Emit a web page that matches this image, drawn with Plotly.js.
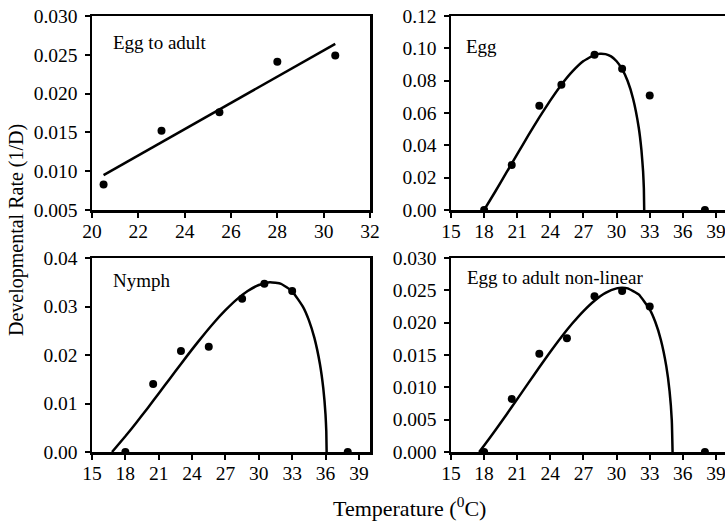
<!DOCTYPE html>
<html>
<head>
<meta charset="utf-8">
<script src="https://cdn.plot.ly/plotly-3.0.1.min.js"></script>
<style>
html, body { margin: 0; padding: 0; overflow: hidden; background: #fff; }
#chart { width: 735px; height: 523px; }
</style>
</head>
<body>
<div id="chart"></div>
<script>
// Panel A: Egg to adult (linear)
const linTemp = [20.5, 23, 25.5, 28, 30.5];
const linRate = [0.0083, 0.0152, 0.0176, 0.0241, 0.0249];
const linFitTemp = [20.5, 30.5];
const linFitRate = [0.0095, 0.0264];

// Panel B: Egg
const eggTemp = [18, 20.5, 23, 25, 28, 30.5, 33, 38];
const eggRate = [0, 0.0278, 0.0645, 0.0774, 0.0961, 0.0874, 0.0708, 0];
const eggFitTemp = [18, 19, 20, 21, 22, 23, 24, 25, 26, 27, 28, 28.5, 29, 29.5, 30, 30.5, 31, 31.5, 32, 32.25, 32.4, 32.47, 32.5];
const eggFitRate = [0, 0.0113, 0.0229, 0.0345, 0.0461, 0.0573, 0.0678, 0.0775, 0.0857, 0.0921, 0.0960, 0.0967, 0.0964, 0.0950, 0.0920, 0.0871, 0.0798, 0.0687, 0.0512, 0.0371, 0.0238, 0.0132, 0];

// Panel C: Nymph
const nymphTemp = [18, 20.5, 23, 25.5, 28.5, 30.5, 33, 38];
const nymphRate = [0, 0.0140, 0.0208, 0.0217, 0.0316, 0.0347, 0.0332, 0];
const nymphFitTemp = [16.8, 18, 19, 20, 21, 22, 23, 24, 25, 26, 27, 28, 29, 30, 31, 32, 33, 34, 34.5, 35, 35.5, 35.8, 36, 36.07, 36.1];
const nymphFitRate = [0, 0.00324, 0.00608, 0.00904, 0.01206, 0.01512, 0.01817, 0.02116, 0.02404, 0.02676, 0.02924, 0.03142, 0.03319, 0.03443, 0.03499, 0.03467, 0.03313, 0.02983, 0.02719, 0.02352, 0.0181, 0.01311, 0.00769, 0.00424, 0];

// Panel D: Egg to adult non-linear
const eaTemp = [18, 20.5, 23, 25.5, 28, 30.5, 33, 38];
const eaRate = [0, 0.0082, 0.0152, 0.0176, 0.0241, 0.0249, 0.0225, 0];
const eaFitTemp = [17.55, 18, 19, 20, 21, 22, 23, 24, 25, 26, 27, 28, 29, 30, 30.5, 31, 32, 33, 33.5, 34, 34.5, 34.8, 35, 35.07];
const eaFitRate = [0, 0.00101, 0.00332, 0.00572, 0.00818, 0.01065, 0.0131, 0.01549, 0.01778, 0.0199, 0.0218, 0.0234, 0.02461, 0.0253, 0.0254, 0.0253, 0.02437, 0.02206, 0.02014, 0.0174, 0.01328, 0.00938, 0.00486, 0];

const panelLabels = ['Egg to adult', 'Egg', 'Nymph', 'Egg to adult non-linear'];
const yTitle = 'Developmental Rate (1/D)';
const xTitle = 'Temperature (<sup>0</sup>C)';

const FONT = 'Liberation Serif, Times New Roman, serif';
const W = 735, H = 523;

function pts(x, y, xa, ya) {
  return { x: x, y: y, xaxis: xa, yaxis: ya, type: 'scatter', mode: 'markers',
    marker: { color: '#000', size: 8 }, hoverinfo: 'skip', showlegend: false };
}
function fit(x, y, xa, ya) {
  return { x: x, y: y, xaxis: xa, yaxis: ya, type: 'scatter', mode: 'lines',
    line: { color: '#000', width: 2.5, shape: 'spline', smoothing: 0.4 }, hoverinfo: 'skip', showlegend: false, cliponaxis: false };
}

const data = [
  fit(linFitTemp, linFitRate, 'x', 'y'),
  pts(linTemp, linRate, 'x', 'y'),
  fit(eggFitTemp, eggFitRate, 'x2', 'y2'),
  pts(eggTemp, eggRate, 'x2', 'y2'),
  fit(nymphFitTemp, nymphFitRate, 'x3', 'y3'),
  pts(nymphTemp, nymphRate, 'x3', 'y3'),
  fit(eaFitTemp, eaFitRate, 'x4', 'y4'),
  pts(eaTemp, eaRate, 'x4', 'y4')
];

const tickFont = { family: FONT, size: 19.5, color: '#000' };
function xax(domain, range, tick0, dtick, anchor) {
  return { domain: domain, range: range, tick0: tick0, dtick: dtick, anchor: anchor,
    showgrid: false, zeroline: false, showline: true, mirror: true, linecolor: '#000', linewidth: 2.5,
    ticks: 'outside', ticklen: 5, tickwidth: 2, tickcolor: '#000', tickfont: tickFont, ticklabelstandoff: -3, fixedrange: true };
}
function yax(domain, range, dtick, fmt, anchor) {
  return { domain: domain, range: range, tick0: 0, dtick: dtick, tickformat: fmt, anchor: anchor,
    showgrid: false, zeroline: false, showline: true, mirror: true, linecolor: '#000', linewidth: 2.5,
    ticks: 'outside', ticklen: 5, tickwidth: 2, tickcolor: '#000', tickfont: tickFont, ticklabelstandoff: 3, fixedrange: true };
}

const colL = [92 / W, 370 / W];
const colR = [451 / W, 727 / W];
const rowT = [(H - 210) / H, (H - 16) / H];
const rowB = [(H - 452) / H, (H - 258) / H];

function label(text, xref, yref, x, y) {
  return { text: text, xref: xref, yref: yref, x: x, y: y, xanchor: 'left', yanchor: 'middle',
    showarrow: false, font: { family: FONT, size: 19, color: '#000' } };
}

const layout = {
  width: W, height: H,
  margin: { l: 0, r: 0, t: 0, b: 0 },
  paper_bgcolor: '#fff', plot_bgcolor: '#fff',
  font: { family: FONT, color: '#000' },
  xaxis: xax(colL, [20, 32], 20, 2, 'y'),
  yaxis: yax(rowT, [0.005, 0.030], 0.005, '.3f', 'x'),
  xaxis2: xax(colR, [15, 40], 15, 3, 'y2'),
  yaxis2: yax(rowT, [0, 0.12], 0.02, '.2f', 'x2'),
  xaxis3: xax(colL, [15, 40], 15, 3, 'y3'),
  yaxis3: yax(rowB, [0, 0.04], 0.01, '.2f', 'x3'),
  xaxis4: xax(colR, [15, 40], 15, 3, 'y4'),
  yaxis4: yax(rowB, [0, 0.030], 0.005, '.3f', 'x4'),
  annotations: [
    label(panelLabels[0], 'x domain', 'y domain', 0.068, 0.861),
    label(panelLabels[1], 'x2 domain', 'y2 domain', 0.046, 0.842),
    label(panelLabels[2], 'x3 domain', 'y3 domain', 0.070, 0.886),
    label(panelLabels[3], 'x4 domain', 'y4 domain', 0.052, 0.898),
    { text: yTitle, xref: 'paper', yref: 'paper', x: 16 / W, y: (H - 230) / H, textangle: -90,
      xanchor: 'center', yanchor: 'middle', showarrow: false, font: { family: FONT, size: 20, color: '#000' } },
    { text: xTitle, xref: 'paper', yref: 'paper', x: 410 / W, y: (H - 507) / H,
      xanchor: 'center', yanchor: 'middle', showarrow: false, font: { family: FONT, size: 22, color: '#000' } }
  ]
};

Plotly.newPlot('chart', data, layout, { staticPlot: true, displayModeBar: false });
</script>
</body>
</html>
